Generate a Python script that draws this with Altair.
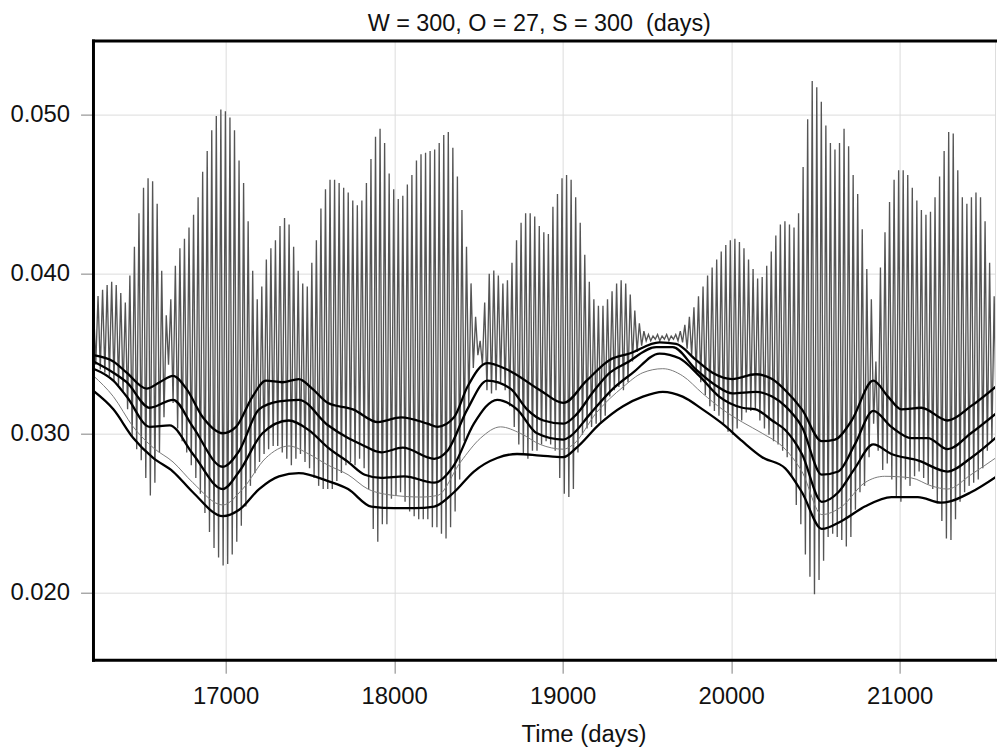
import altair as alt
import pandas as pd

# ---------------- data (values in units of 1e-3) ----------------
T0 = 16215      # day of first peak of the fast oscillation
PERIOD = 27     # days between successive peaks

peaks = [
    38.0, 38.6, 39.0, 39.3, 39.5, 39.3, 38.8, 38.2, 39.9, 41.7,
    43.8, 45.4, 46.0, 45.8, 44.4, 40.2, 37.4, 38.4, 40.5, 41.6,
    42.2, 42.9, 43.7, 44.8, 46.4, 47.7, 49.0, 49.9, 50.3, 50.2,
    49.8, 49.0, 47.1, 45.7, 43.3, 40.2, 38.4, 39.2, 40.9, 41.6,
    42.1, 43.0, 43.5, 43.1, 41.7, 40.2, 39.4, 39.2, 40.7, 42.1,
    44.1, 45.3, 45.9, 45.9, 45.7, 45.4, 45.1, 44.6, 44.3, 44.6,
    45.7, 47.2, 48.6, 49.1, 48.2, 46.3, 45.3, 44.7, 44.9, 45.6,
    46.2, 47.1, 47.5, 47.6, 47.7, 47.8, 48.2, 48.7, 48.9, 47.9,
    46.1, 44.0, 41.7, 39.4, 37.3, 35.8, 38.2, 40.0, 40.2, 39.9,
    39.4, 39.6, 40.7, 42.1, 43.2, 43.8, 43.8, 43.6, 43.0, 42.6,
    42.5, 44.2, 45.0, 46.0, 46.2, 45.9, 44.8, 43.2, 41.2, 39.5,
    38.4, 38.0, 38.0, 38.4, 38.9, 39.4, 39.6, 39.4, 38.7, 37.7,
    36.9, 36.4, 36.2, 36.1, 36.2, 36.1, 36.2, 36.1, 36.2, 36.4,
    36.8, 37.3, 37.9, 38.6, 39.2, 39.9, 40.4, 40.9, 41.4, 41.8,
    42.1, 42.2, 42.0, 41.6, 40.9, 40.3, 39.7, 39.8, 40.5, 41.4,
    42.4, 43.1, 43.3, 43.1, 42.9, 43.8, 46.7, 49.7, 52.1, 51.7,
    50.8, 49.3, 48.2, 47.8, 48.2, 49.1, 48.0, 46.2, 45.0, 42.8,
    40.3, 38.4, 34.5, 40.4, 42.6, 44.5, 45.9, 46.5, 46.5, 46.2,
    45.4, 44.6, 44.0, 43.7, 43.9, 44.8, 46.1, 47.7, 48.9, 48.8,
    46.5, 44.8, 44.4, 44.8, 45.1, 44.8, 43.3, 40.7, 38.6, 40.7,
]

troughs = [
    34.3, 34.0, 33.8, 33.6, 33.3, 33.0, 32.6, 31.5, 29.8, 29.0,
    28.3, 27.2, 26.1, 26.9, 28.8, 31.0, 34.3, 31.9, 30.3, 29.5,
    28.8, 28.0, 27.2, 26.2, 25.0, 23.8, 22.8, 22.2, 21.7, 21.8,
    22.4, 23.2, 24.2, 25.4, 26.7, 27.5, 28.2, 28.7, 29.0, 29.2,
    29.2, 28.8, 28.4, 28.0, 28.4, 28.7, 28.2, 27.8, 27.2, 26.7,
    26.5, 26.5, 26.5, 27.0, 27.5, 28.0, 28.2, 28.0, 28.4, 27.8,
    26.5, 24.0, 23.2, 24.3, 24.3, 25.9, 26.1, 26.3, 25.7, 25.1,
    24.8, 24.6, 24.6, 24.6, 24.1, 24.1, 23.7, 23.4, 24.1, 25.1,
    27.1, 29.5, 31.7, 34.1, 34.9, 34.3, 32.7, 32.5, 32.7, 33.2,
    32.7, 31.7, 30.4, 29.3, 28.7, 28.4, 28.9, 28.9, 29.3, 29.5,
    29.3, 28.9, 27.2, 26.2, 26.0, 26.5, 28.8, 29.9, 30.3, 30.4,
    30.6, 30.6, 31.1, 32.3, 32.7, 32.9, 32.7, 33.2, 34.5, 35.1,
    35.5, 35.8, 35.8, 35.9, 35.8, 35.9, 35.8, 35.9, 35.8, 35.7,
    35.3, 34.9, 33.8, 33.2, 32.4, 31.7, 31.4, 31.1, 30.6, 30.1,
    29.9, 30.3, 30.8, 31.3, 31.4, 31.5, 30.8, 30.3, 29.9, 29.5,
    29.3, 28.9, 28.5, 27.3, 25.5, 24.3, 22.4, 21.0, 19.9, 20.8,
    22.0, 23.5, 23.7, 23.5, 23.3, 22.9, 23.5, 25.2, 26.3, 26.7,
    28.5, 30.6, 28.9, 27.7, 28.1, 27.1, 26.0, 25.7, 27.1, 26.7,
    27.3, 27.6, 27.2, 26.8, 26.5, 25.6, 24.5, 23.4, 23.3, 24.6,
    25.7, 26.3, 26.7, 26.9, 27.1, 27.8, 28.9, 29.5, 30.1, 30.3,
]

curve_a_t = [16215, 16333, 16412, 16530, 16608, 16687, 16766, 16864, 16982, 17061,
             17159, 17238, 17336, 17434, 17513, 17607, 17755, 17903, 18041, 18198,
             18257, 18355, 18434, 18552, 18670, 18866, 19004, 19142, 19279, 19397,
             19575, 19673, 19791, 19889, 20007, 20145, 20243, 20321, 20420, 20538,
             20616, 20715, 20843, 20931, 21010, 21128, 21285, 21423, 21590]
curve_a_v = [34.9, 34.5, 33.8, 32.8, 33.2, 33.6, 32.8, 31.0, 30.0, 30.4,
             32.3, 33.3, 33.2, 33.4, 32.8, 31.9, 31.5, 30.7, 31.0, 30.6,
             30.4, 31.0, 32.9, 34.4, 34.0, 32.7, 31.9, 33.3, 34.6, 35.0,
             35.7, 35.6, 34.6, 33.8, 33.4, 33.7, 33.4, 32.7, 31.5, 29.5,
             29.6, 30.8, 33.3, 32.3, 31.5, 31.6, 30.8, 31.7, 33.1]

curve_b_t = [16215, 16333, 16412, 16549, 16687, 16805, 16982, 17080, 17198, 17316,
             17434, 17607, 17726, 17805, 17923, 18050, 18237, 18316, 18434, 18552,
             18690, 18788, 18886, 19004, 19083, 19181, 19280, 19377, 19555, 19653,
             19791, 19909, 20007, 20145, 20243, 20321, 20420, 20538, 20636, 20734,
             20843, 20951, 21069, 21167, 21285, 21423, 21590]
curve_b_v = [34.5, 33.8, 33.2, 31.6, 32.1, 30.4, 27.9, 28.9, 31.5, 32.0,
             32.1, 30.5, 29.7, 29.3, 28.8, 29.1, 28.4, 28.9, 31.5, 33.3,
             32.8, 31.5, 30.8, 30.6, 31.2, 32.6, 33.8, 34.4, 35.4, 35.4,
             34.0, 33.0, 32.5, 32.6, 32.3, 31.7, 30.4, 27.4, 27.6, 29.3,
             31.4, 30.4, 29.7, 29.7, 29.0, 30.0, 31.4]

curve_c_t = [16215, 16333, 16412, 16549, 16667, 16805, 16982, 17080, 17218, 17375,
             17493, 17607, 17726, 17825, 17923, 18060, 18237, 18355, 18473, 18611,
             18729, 18847, 19004, 19044, 19162, 19299, 19417, 19575, 19693, 19811,
             19929, 20066, 20145, 20243, 20321, 20420, 20538, 20636, 20734, 20843,
             20951, 21108, 21285, 21423, 21590]
curve_c_v = [34.05, 33.3, 32.3, 30.4, 30.5, 28.7, 26.5, 27.6, 30.0, 30.8,
             30.2, 29.1, 28.2, 27.4, 27.2, 27.3, 26.9, 28.0, 30.6, 32.1,
             31.5, 30.0, 29.6, 29.8, 31.2, 32.8, 33.8, 35.0, 34.7, 33.6,
             32.3, 31.6, 31.5, 30.8, 30.2, 28.7, 25.7, 26.3, 27.8, 29.3,
             28.7, 28.3, 27.6, 28.45, 29.9]

curve_d_t = [16215, 16333, 16451, 16569, 16687, 16805, 16982, 17100, 17238, 17375,
             17493, 17607, 17726, 17844, 18001, 18159, 18257, 18394, 18513, 18631,
             18748, 18866, 19004, 19063, 19201, 19358, 19476, 19594, 19712, 19830,
             19948, 20066, 20184, 20321, 20420, 20538, 20656, 20793, 20911, 21069,
             21187, 21285, 21423, 21590]
curve_d_v = [33.6, 32.3, 30.4, 29.1, 28.2, 26.9, 25.5, 26.5, 28.45, 29.2,
             28.7, 28.0, 27.4, 26.5, 26.1, 26.0, 26.1, 28.2, 29.7, 30.4,
             30.0, 29.3, 29.0, 29.3, 31.3, 32.9, 33.8, 34.05, 33.6, 32.5,
             31.5, 30.7, 30.0, 29.0, 27.6, 24.9, 25.4, 26.9, 27.3, 27.2,
             26.7, 26.5, 27.4, 28.6]

curve_e_t = [16215, 16333, 16451, 16569, 16687, 16805, 16982, 17080, 17198, 17316,
             17434, 17607, 17726, 17864, 18001, 18119, 18237, 18355, 18473, 18611,
             18729, 18866, 19004, 19083, 19221, 19358, 19476, 19594, 19712, 19830,
             19948, 20066, 20184, 20321, 20420, 20538, 20656, 20793, 20951, 21108,
             21246, 21305, 21423, 21590]
curve_e_v = [32.65, 31.5, 29.7, 28.45, 27.6, 26.3, 24.8, 25.2, 26.5, 27.3,
             27.5, 27.0, 26.5, 25.4, 25.3, 25.3, 25.4, 26.3, 27.6, 28.45,
             28.7, 28.6, 28.5, 29.1, 30.6, 31.7, 32.3, 32.6, 32.3, 31.5,
             30.6, 29.5, 28.5, 27.8, 26.3, 24.0, 24.5, 25.4, 26.0, 26.0,
             25.65, 25.75, 26.3, 27.4]

x_ticks = [17000, 18000, 19000, 20000, 21000]
y_ticks = [0.020, 0.030, 0.040, 0.050]
title_text = "W = 300, O = 27, S = 300\u00a0 (days)"
x_title = "Time (days)"

# ---------------- tables ----------------
rows = []
for k, (p, q) in enumerate(zip(peaks, troughs)):
    rows.append({"t": T0 + PERIOD * k, "v": p / 1000.0})
    rows.append({"t": T0 + PERIOD * k + PERIOD / 2.0, "v": q / 1000.0})
signal = pd.DataFrame(rows)

thick = []
for name, ts, vs in [("A", curve_a_t, curve_a_v), ("B", curve_b_t, curve_b_v),
                     ("C", curve_c_t, curve_c_v), ("E", curve_e_t, curve_e_v)]:
    for t, v in zip(ts, vs):
        thick.append({"series": name, "t": t, "v": v / 1000.0})
thick = pd.DataFrame(thick)
thin = pd.DataFrame({"t": curve_d_t, "v": [v / 1000.0 for v in curve_d_v]})
frame_df = pd.DataFrame({"k": [0]})

# ---------------- chart ----------------
W, H = 907, 623
FONT = "Liberation Sans"
xscale = alt.Scale(domain=[16215, 21566], nice=False, zero=False)
yscale = alt.Scale(domain=[0.01576, 0.0546], nice=False, zero=False)

x_axis = alt.Axis(values=x_ticks, format="d", grid=True, gridColor="#dcdcdc", gridWidth=1,
                  ticks=True, tickSize=13, tickColor="#808080", tickWidth=1,
                  labelFont=FONT, labelFontSize=24, labelColor="#111111",
                  labelBaseline="alphabetic", labelPadding=30, labelFlush=False,
                  domain=False, orient="bottom",
                  title=x_title, titleFont=FONT, titleFontSize=24, titleFontWeight="normal",
                  titleColor="#111111", titleX=493, titleY=82, titleBaseline="alphabetic",
                  titleAlign="center", titleAnchor="start")
y_axis = alt.Axis(values=y_ticks, format=".3f", grid=True, gridColor="#dcdcdc", gridWidth=1,
                  ticks=True, tickSize=13, tickColor="#808080", tickWidth=1,
                  labelFont=FONT, labelFontSize=24, labelColor="#111111",
                  labelBaseline="middle", labelPadding=11, labelFlush=False,
                  domain=False, orient="left", title=None)

sig = alt.Chart(signal).mark_line(color="#555555", strokeWidth=1.35, clip=True).encode(
    x=alt.X("t:Q", scale=xscale, axis=x_axis),
    y=alt.Y("v:Q", scale=yscale, axis=y_axis),
    order="t:Q",
)
thick_lines = alt.Chart(thick).mark_line(color="black", strokeWidth=2.3, clip=True,
                                         interpolate="monotone").encode(
    x=alt.X("t:Q", scale=xscale, axis=None),
    y=alt.Y("v:Q", scale=yscale, axis=None),
    detail="series:N",
    order="t:Q",
)
thin_line = alt.Chart(thin).mark_line(color="#7a7a7a", strokeWidth=1, clip=True,
                                      interpolate="monotone").encode(
    x=alt.X("t:Q", scale=xscale, axis=None),
    y=alt.Y("v:Q", scale=yscale, axis=None),
    order="t:Q",
)

# plot frame: top, left and bottom edges (right edge lies outside the picture)
frame_top = alt.Chart(frame_df).mark_rule(color="black", strokeWidth=3).encode(
    x=alt.value(-1.5), x2=alt.value(W + 10), y=alt.value(0))
frame_bottom = alt.Chart(frame_df).mark_rule(color="black", strokeWidth=3).encode(
    x=alt.value(-1.5), x2=alt.value(W + 10), y=alt.value(H))
frame_left = alt.Chart(frame_df).mark_rule(color="black", strokeWidth=3).encode(
    x=alt.value(0), y=alt.value(-1.5), y2=alt.value(H + 1.5))

chart = alt.layer(sig, thick_lines, thin_line, frame_top, frame_bottom, frame_left).resolve_axis(
    x="independent", y="independent"
).properties(
    width=W, height=H,
    title=alt.TitleParams(title_text, font=FONT, fontSize=23.5, fontWeight="normal",
                          color="#111111", anchor="middle", frame="group",
                          baseline="alphabetic", offset=-16, dx=-5),
    padding={"left": 86, "top": 31, "right": 2, "bottom": 88},
    autosize=alt.AutoSizeParams(type="none"),
).configure_view(stroke=None).configure(background="white")

chart.save("out.html", embed_options={"renderer": "svg", "actions": False})
